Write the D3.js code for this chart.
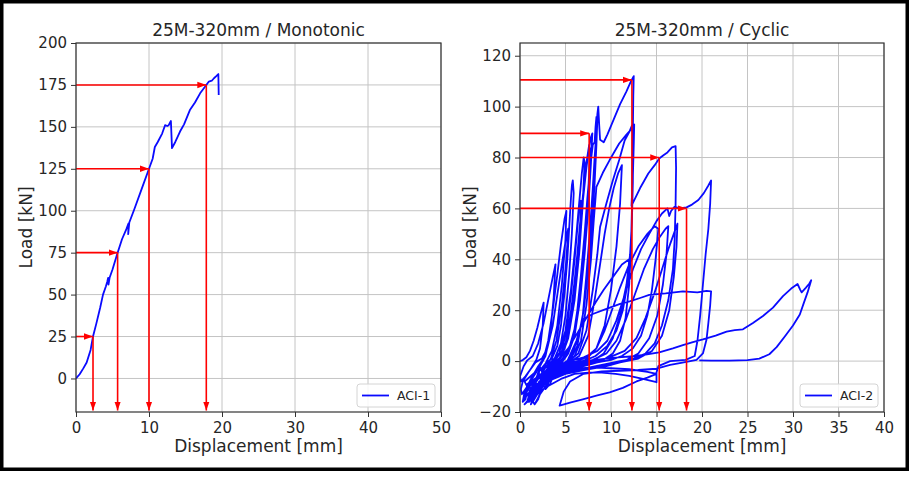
<!DOCTYPE html>
<html>
<head>
<meta charset="utf-8">
<script src="https://cdn.jsdelivr.net/npm/d3@7"></script>
<style>
  body { margin: 0; background: #ffffff; }
  text { font-family: "DejaVu Sans", sans-serif; fill: #262626; }
</style>
</head>
<body>
<svg id="fig" width="911" height="477"></svg>
<script>
// ---------- Monotonic test (ACI-1) ----------
const monoDisp = [0, 0.5, 1.0, 1.46, 2.0, 2.33, 2.8, 3.3, 3.7, 4.1, 4.3, 4.4, 4.45, 4.6, 5.0, 5.7, 6.3,
  6.9, 7.2, 7.15, 7.3, 8.0, 9.0, 10.0, 10.5, 10.8, 11.2, 11.8, 12.2, 12.5, 12.7, 13.0, 13.15, 13.6,
  14.25, 14.8, 15.6, 16.3, 17.0, 17.85, 18.2, 18.6, 18.9, 19.25, 19.5, 19.55];
const monoLoad = [0, 2.5, 6, 9.5, 17, 25, 33, 42, 50, 55, 58, 60, 56, 60, 65, 75, 83,
  89, 92.5, 86, 93, 101, 113, 125, 131, 138, 141, 146, 151, 150.5, 151, 153.5, 137.3, 141,
  147.2, 151.5, 160, 164.5, 170, 175, 177, 177.5, 179, 180.4, 181.5, 169];
const monoArrowDisp = [2.33, 5.7, 10.0, 17.85];
const monoArrowLoad = [25, 75, 125, 175];

// ---------- Cyclic test (ACI-2), recorded as successive load cycles [disp, load] ----------
const cycle01 = [[0,0],[0.3,0.4],[0.7,1.5],[1.1,4],[1.5,8],[1.9,13],[2.3,19],[2.6,23],[2.5,14],[2.2,5],[1.8,0.5],[1.2,-3],[0.6,-6],[0.1,-8]];
const cycle02 = [[0,-6],[0.4,-2],[0.8,0.3],[1.4,2],[2.0,7],[2.6,15],[3.1,24],[3.6,33],[3.9,38],[3.7,25],[3.3,10],[2.8,2],[2.2,-2],[1.5,-6],[0.8,-10],[0.2,-13],[0.1,-11]];
const cycle03 = [[0.3,-8],[1.0,-4],[1.7,-0.5],[2.4,1],[3.0,5],[3.6,14],[4.1,26],[4.6,38],[5.0,47],[5.3,52],[5.1,40],[4.6,22],[4.0,8],[3.4,1],[2.7,-3],[2.3,-6],[2.0,-4.5],[1.6,-9],[1.3,-11],[0.9,-9.5],[0.6,-15],[0.3,-16]];
const cycle04 = [[0.5,-12],[1.2,-7],[2,-2],[2.6,1],[3.1,8],[3.6,20],[4.1,34],[4.5,46],[4.9,56],[5.1,59],[5.0,48],[4.6,30],[4.1,14],[3.5,4],[2.8,-1],[2.4,-4],[2.2,-2.5],[2.0,-6],[1.6,-8],[1.2,-11],[0.8,-9.5],[0.4,-15]];
const cycle05 = [[0.9,-13],[1.5,-9],[2.1,-4],[2.8,-1],[3.5,1],[4.1,6],[4.5,14],[4.9,27],[5.2,40],[5.4,52],[5.6,64],[5.7,69],[5.8,71],[5.9,66],[5.7,50],[5.4,34],[5.0,18],[4.5,7],[3.8,1],[3.0,-3],[2.6,-7],[2.4,-5],[2.2,-9],[1.5,-12],[1.2,-10.5],[0.8,-16],[0.5,-17]];
const cycle06 = [[1.2,-14],[1.9,-10],[2.6,-5],[3.3,-1.5],[4.0,1],[4.6,4],[5.1,12],[5.6,26],[6.0,40],[6.3,52],[6.5,60],[6.7,63],[6.6,52],[6.3,38],[5.9,22],[5.3,9],[4.6,2],[3.9,-2],[3.2,-6],[2.9,-4],[2.6,-9],[2.0,-12],[1.7,-10],[1.3,-15],[0.9,-13]];
const cycle07 = [[1.0,-13],[1.8,-8],[2.7,-3],[3.5,0],[4.3,3],[5.0,12],[5.6,28],[6.1,46],[6.5,62],[6.8,74],[7.0,80],[7.1,78],[6.9,62],[6.5,42],[6.0,24],[5.3,9],[4.4,1],[3.5,-3],[3.2,-6],[3.0,-4],[2.7,-9],[2.4,-7],[2.0,-12],[1.6,-13],[1.3,-11.5],[0.9,-16]];
const cycle08 = [[1.5,-12],[2.2,-8],[2.9,-4],[3.6,-1],[4.3,1],[4.9,5],[5.4,14],[5.9,28],[6.3,42],[6.7,56],[7.0,66],[7.3,76],[7.6,84],[7.8,88],[7.95,89.5],[7.8,78],[7.5,60],[7.1,42],[6.6,24],[6.0,10],[5.3,3],[4.5,-1],[3.6,-5],[3.3,-3.5],[2.9,-9],[2.5,-7],[1.9,-13],[1.4,-16],[1.0,-14]];
const cycle09 = [[1.3,-15],[2,-11],[2.8,-6],[3.6,-2],[4.4,1.5],[5.1,8],[5.7,22],[6.2,38],[6.6,54],[7.0,68],[7.3,78],[7.6,85],[7.7,83],[7.5,66],[7.2,48],[6.7,30],[6.1,14],[5.4,5],[4.5,0],[3.9,-3],[3.6,-1.5],[3.3,-6],[2.9,-4.5],[2.5,-9],[2.1,-8],[1.7,-14],[1.2,-17]];
const cycle10 = [[1.7,-11],[2.5,-7],[3.4,-3],[4.3,-0.5],[5.1,2],[5.8,8],[6.3,20],[6.7,34],[7.1,50],[7.4,64],[7.7,76],[8.0,85],[8.2,86],[8.3,92],[8.4,96],[8.5,95],[8.4,85],[8.2,70],[7.9,52],[7.5,36],[7.0,20],[6.4,9],[5.6,2],[4.7,-2],[3.8,-6],[3.4,-4.5],[3.0,-10],[2.6,-8.5],[2.1,-14],[1.6,-17],[1.3,-15]];
const cycle11 = [[2.0,-12],[2.9,-8],[3.8,-4],[4.7,-1],[5.6,1],[6.3,6],[6.9,18],[7.3,34],[7.7,52],[8.0,68],[8.2,80],[8.4,90],[8.5,97],[8.6,100],[8.7,93],[8.8,87],[9.2,86],[9.6,89],[10.3,95],[11.0,101],[11.7,106],[12.2,110],[12.5,112],[12.45,104],[12.4,90],[12.35,75],[12.3,60],[12.2,45],[12.0,30],[11.6,17],[11.0,8],[10.2,3],[9.2,0.5],[8,-0.5],[6.5,-2],[5,-4],[4.2,-6],[3.8,-4.5],[3.3,-9],[2.8,-11],[2.4,-9],[2.0,-15],[1.6,-17]];
const cycle12 = [[2.2,-13],[3.2,-8],[4.2,-4],[5.2,-1],[6.0,2],[6.7,8],[7.3,22],[7.8,40],[8.1,55],[8.4,68.5],[9.1,74],[9.85,79],[10.9,85.5],[11.7,89],[12.2,91],[12.55,93],[12.5,85],[12.4,72],[12.25,61],[13.2,68],[14.1,73.7],[14.8,77],[15.3,79.6],[15.8,81],[16.2,82],[16.7,84],[17.1,84.5],[17.15,76],[17.1,62],[17.0,48],[16.8,36],[16.3,24],[15.6,14],[14.8,7],[13.8,3],[12.5,1],[11,0],[9,-1.5],[7,-3],[5,-4.5],[3.5,-6],[3.1,-5],[2.6,-10],[2.2,-8],[1.7,-13],[1.2,-14]];
const cycle13 = [[2,-10],[3.5,-5],[5,-1.5],[6.5,2],[7.5,10],[8.2,24],[8.8,38],[9.3,50],[9.8,60],[10.3,68],[10.8,74],[11.2,77],[11.0,62],[10.6,45],[10.0,28],[9.3,14],[8.4,5],[7.2,0.5],[5.5,-2],[4,-4],[2.5,-8],[1.2,-12]];
const cycle14 = [[1.5,-11],[2.8,-6],[4,-3],[5.2,-0.5],[6.4,3],[7.3,12],[8,28],[8.5,42],[8.8,52.7],[9.5,62],[10.2,71],[10.9,79],[11.5,86.7],[12.0,90],[12.3,92.5],[12.45,88],[12.4,70],[12.3,55],[12.1,42],[11.7,30],[11.0,18],[10.2,9],[9.2,3],[8,0],[6.5,-1],[5,-2.5],[3.5,-4],[2,-7],[1,-10]];
const cycle15 = [[1.2,-9],[2.5,-5],[4,-2],[5.5,0],[7,1.5],[8.5,4],[9.6,8],[10.6,16],[11.5,26],[12.4,36],[13.3,44],[14.2,50],[15.0,55],[15.6,58],[16.2,60],[16.4,57],[16.6,59],[17.0,60.7],[17.5,60],[18.3,60.4],[18.9,61.5],[19.6,63.3],[20.2,66],[20.7,69],[21.0,71],[20.9,62],[20.7,52],[20.4,42],[20.1,30],[19.8,18],[19.5,8],[19.2,2],[18.2,0.5],[16.5,0],[15.2,-2],[15.0,-4.5],[15.0,-8.3],[13.5,-7],[12,-5.8],[10.5,-5],[9,-4.5],[7.5,-4.5],[6,-5],[4.5,-7],[3,-10],[1.8,-13],[1,-16]];
const cycle16 = [[1.6,-12],[3,-7],[4.5,-3],[6,-0.5],[7.3,1.5],[8.4,5],[9.3,12],[10.1,20],[11,29],[12,38],[13,45],[14,50],[14.8,53],[15.2,52],[14.9,40],[14.5,28],[14,18],[13.3,10],[12.4,5],[11.2,2],[10,0.5],[8.5,-0.5],[7,-2],[5.5,-3],[4,-5],[2.5,-8],[1.2,-11]];
const cycle17 = [[1.5,-10],[3.5,-5],[6,-2],[8,0.5],[9.5,3],[10.6,8],[11.6,16],[12.6,26],[13.6,36],[14.6,44],[15.4,49],[16,52],[16.3,53],[16.1,42],[15.7,30],[15.1,18],[14.2,9],[13,3],[11.5,0],[9.5,-2],[7,-3.5],[5,-5],[3,-8],[1.5,-12]];
const cycle18 = [[0.8,-9],[2,-6],[3.3,-3],[4.3,0.7],[5.3,5],[6.3,11],[7.3,17],[8.3,23],[9.2,28],[10.2,33],[11.2,38],[12,40],[11.8,30],[11.3,20],[10.6,12],[9.6,6],[8.3,2],[7,0],[5.5,-1],[4,-3],[2.5,-6],[1,-9]];
const cycle19 = [[2,-9],[4.5,-4],[7,-1],[9.5,1],[11.5,4],[12.8,9],[13.8,17],[14.8,27],[15.6,36],[16.3,44],[16.9,50],[17.3,54],[17.2,45],[16.9,33],[16.4,20],[15.6,10],[14.5,4],[13,1],[11,-0.5],[8.5,-2],[6,-3.5],[4,-6],[2.2,-10],[1,-14]];
const cycle20 = [[1.3,-12],[2.6,-8],[4,-4],[5.2,0],[6.2,8],[6.9,16.4],[8,18.5],[9.5,20.5],[11,22.5],[12.05,23.5],[13.2,24.8],[14.2,26],[16,26.6],[17.9,27.4],[19.5,27],[20.5,27.6],[21,27.4],[20.9,22],[20.7,15],[20.5,8.5],[20.1,3],[19.4,0.5],[18,-0.5],[16.5,-1.5],[15,-3],[13,-3.5],[11,-3.8],[9,-4],[7,-5],[5.5,-8],[4.8,-12],[4.35,-17.5],[5.6,-16.2],[6.9,-15],[8.5,-13.5],[9.85,-12.3],[11.3,-10.5],[12.8,-8],[14,-6.5],[15,-5],[14,-4.2],[12,-3.2],[10,-2.8],[8,-2.5],[6,-3],[4,-5],[2.5,-9],[1.2,-13]];
const cycle21 = [[0.5,-8],[1.8,-4],[3.5,-1.5],[5.2,-0.5],[7.1,0],[9,0.8],[10.8,1.5],[12.8,2],[15.3,3.4],[16.8,5],[17.9,6.3],[19,7.5],[20.1,8.5],[21.5,10],[22.7,11.6],[23.6,12.2],[24.5,12.5],[25.6,15],[26.7,17.7],[27.8,21],[28.9,25.5],[29.8,28.5],[30.5,30.3],[30.8,28],[30.95,27],[31.4,28.8],[31.8,30.5],[32.0,31.8],[31.6,27],[31.2,23],[30.75,18.3],[30,14],[29.1,9.7],[28.2,5.5],[27.4,2.7],[26.3,1],[25,0.4],[23,0.2],[21,0.2],[19.7,0.3]];
const cyclicPath = [].concat(cycle01, cycle02, cycle03, cycle04, cycle05, cycle06, cycle07,
  cycle08, cycle09, cycle10, cycle11, cycle12, cycle13, cycle14, cycle15, cycle16, cycle17,
  cycle18, cycle19, cycle20, cycle21);
const cyclicArrowDisp = [7.6, 12.3, 15.3, 18.3];
const cyclicArrowLoad = [89.5, 110.5, 80, 60];

// ---------- Axis ticks ----------
const monoXTicks = [0, 10, 20, 30, 40, 50];
const monoYTicks = [0, 25, 50, 75, 100, 125, 150, 175, 200];
const cyclicXTicks = [0, 5, 10, 15, 20, 25, 30, 35, 40];
const cyclicYTicks = [-20, 0, 20, 40, 60, 80, 100, 120];

const BLUE = "#0a0aff";
const RED = "#ff0000";
const GRID = "#c4c4c4";
const SPINE = "#333333";

const svg = d3.select("#fig");
svg.append("rect").attr("width", 911).attr("height", 477).attr("fill", "#ffffff");

const defs = svg.append("defs");
defs.append("marker")
  .attr("id", "arrowHead")
  .attr("viewBox", "0 -4 9 8")
  .attr("refX", 9).attr("refY", 0)
  .attr("markerUnits", "userSpaceOnUse")
  .attr("markerWidth", 9).attr("markerHeight", 8)
  .attr("orient", "auto")
  .append("path").attr("d", "M0,-3.2L9,0L0,3.2Z").attr("fill", RED);

const fmt = d => d < 0 ? "\u2212" + Math.abs(d) : String(d);

function drawPanel(cfg) {
  const x = d3.scaleLinear().domain(cfg.xDomain).range([cfg.left, cfg.right]);
  const y = d3.scaleLinear().domain(cfg.yDomain).range([cfg.bottom, cfg.top]);
  const g = svg.append("g");

  const clipId = "clip-" + cfg.id;
  defs.append("clipPath").attr("id", clipId)
    .append("rect").attr("x", cfg.left).attr("y", cfg.top)
    .attr("width", cfg.right - cfg.left).attr("height", cfg.bottom - cfg.top);

  // grid
  g.append("g").selectAll("line").data(cfg.xTicks).join("line")
    .attr("x1", d => x(d)).attr("x2", d => x(d))
    .attr("y1", cfg.top).attr("y2", cfg.bottom)
    .attr("stroke", GRID).attr("stroke-width", 1);
  g.append("g").selectAll("line").data(cfg.yTicks).join("line")
    .attr("x1", cfg.left).attr("x2", cfg.right)
    .attr("y1", d => y(d)).attr("y2", d => y(d))
    .attr("stroke", GRID).attr("stroke-width", 1);

  // data
  const line = d3.line().x(d => x(d[0])).y(d => y(d[1]));
  g.append("path").datum(cfg.points)
    .attr("clip-path", `url(#${clipId})`)
    .attr("d", line)
    .attr("fill", "none").attr("stroke", BLUE)
    .attr("stroke-width", 1.8).attr("stroke-linejoin", "round");

  // reference arrows
  const arrows = cfg.arrowDisp.map((d, i) => ({ disp: d, load: cfg.arrowLoad[i] }));
  const ag = g.append("g");
  ag.selectAll("line.h").data(arrows).join("line").attr("class", "h")
    .attr("x1", x(0)).attr("x2", d => x(d.disp))
    .attr("y1", d => y(d.load)).attr("y2", d => y(d.load))
    .attr("stroke", RED).attr("stroke-width", 1.6)
    .attr("marker-end", "url(#arrowHead)");
  ag.selectAll("line.v").data(arrows).join("line").attr("class", "v")
    .attr("x1", d => x(d.disp)).attr("x2", d => x(d.disp))
    .attr("y1", d => y(d.load)).attr("y2", cfg.bottom - 1.5)
    .attr("stroke", RED).attr("stroke-width", 1.6)
    .attr("marker-end", "url(#arrowHead)");

  // axes
  const xAxis = d3.axisBottom(x).tickValues(cfg.xTicks).tickFormat(fmt).tickSize(5).tickPadding(5);
  const yAxis = d3.axisLeft(y).tickValues(cfg.yTicks).tickFormat(fmt).tickSize(5).tickPadding(4);
  const gx = g.append("g").attr("transform", `translate(0,${cfg.bottom})`).call(xAxis);
  const gy = g.append("g").attr("transform", `translate(${cfg.left},0)`).call(yAxis);
  [gx, gy].forEach(a => {
    a.select(".domain").remove();
    a.selectAll(".tick line").attr("stroke", SPINE).attr("stroke-width", 1);
    a.selectAll(".tick text").attr("font-size", 15).attr("fill", "#262626")
      .attr("font-family", "DejaVu Sans, sans-serif");
  });

  g.append("rect")
    .attr("x", cfg.left).attr("y", cfg.top)
    .attr("width", cfg.right - cfg.left).attr("height", cfg.bottom - cfg.top)
    .attr("fill", "none").attr("stroke", SPINE).attr("stroke-width", 1.2);

  // labels
  const cx = (cfg.left + cfg.right) / 2;
  g.append("text").attr("x", cx).attr("y", 36).attr("text-anchor", "middle")
    .attr("font-size", 17).text(cfg.title);
  g.append("text").attr("x", cx).attr("y", 452).attr("text-anchor", "middle")
    .attr("font-size", 17).text("Displacement [mm]");
  g.append("text")
    .attr("transform", `translate(${cfg.yLabelX},${(cfg.top + cfg.bottom) / 2}) rotate(-90)`)
    .attr("text-anchor", "middle").attr("font-size", 17).text("Load [kN]");

  // legend
  const lx = cfg.right - 84, ly = cfg.bottom - 28;
  const lg = g.append("g");
  lg.append("rect").attr("x", lx).attr("y", ly).attr("width", 78).attr("height", 23)
    .attr("rx", 3).attr("fill", "#ffffff").attr("fill-opacity", 0.85)
    .attr("stroke", "#d4d4d4").attr("stroke-width", 1);
  lg.append("line").attr("x1", lx + 5).attr("x2", lx + 32)
    .attr("y1", ly + 11.5).attr("y2", ly + 11.5)
    .attr("stroke", BLUE).attr("stroke-width", 1.8);
  lg.append("text").attr("x", lx + 40).attr("y", ly + 16)
    .attr("font-size", 12.5).text(cfg.legend);
}

drawPanel({
  id: "mono", left: 76, right: 441, top: 43, bottom: 412,
  xDomain: [0, 50], yDomain: [-20, 200],
  xTicks: monoXTicks, yTicks: monoYTicks,
  points: monoDisp.map((d, i) => [d, monoLoad[i]]),
  arrowDisp: monoArrowDisp, arrowLoad: monoArrowLoad,
  title: "25M-320mm / Monotonic", legend: "ACI-1", yLabelX: 32
});

drawPanel({
  id: "cyc", left: 520, right: 884, top: 43, bottom: 412,
  xDomain: [0, 40], yDomain: [-20, 125],
  xTicks: cyclicXTicks, yTicks: cyclicYTicks,
  points: cyclicPath,
  arrowDisp: cyclicArrowDisp, arrowLoad: cyclicArrowLoad,
  title: "25M-320mm / Cyclic", legend: "ACI-2", yLabelX: 476
});

// outer frame
svg.append("rect").attr("x", 1.75).attr("y", 1.75).attr("width", 905.5).attr("height", 467.5)
  .attr("fill", "none").attr("stroke", "#000000").attr("stroke-width", 3.5);
</script>
</body>
</html>
